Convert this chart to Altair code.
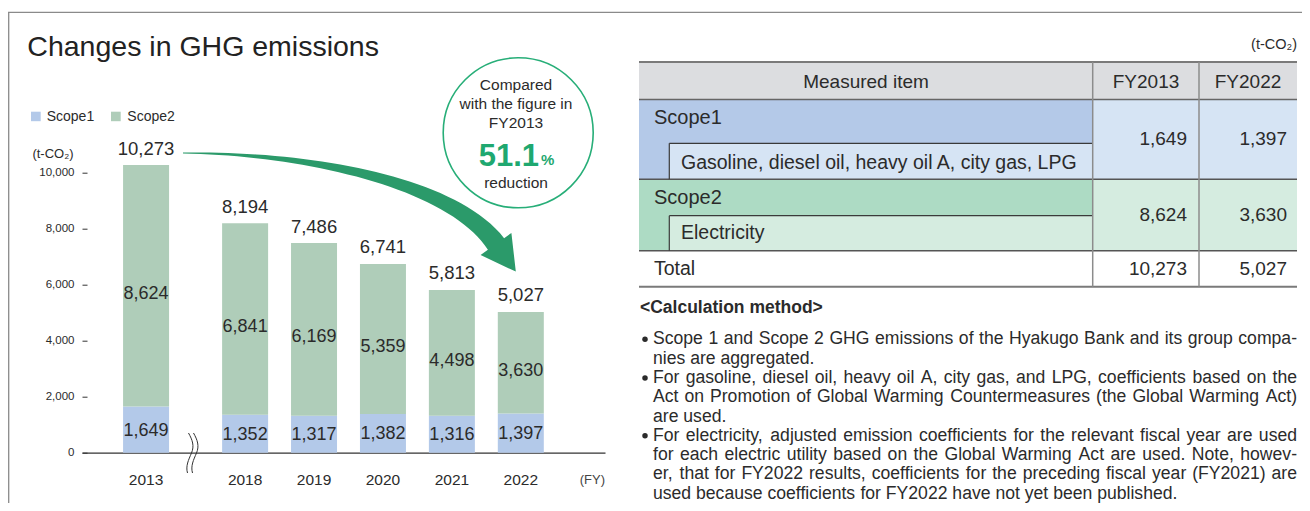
import altair as alt
import pandas as pd

# ---------------- data ----------------
years = [2013, 2018, 2019, 2020, 2021, 2022]
scope1 = [1649, 1352, 1317, 1382, 1316, 1397]
scope2 = [8624, 6841, 6169, 5359, 4498, 3630]
totals = [10273, 8194, 7486, 6741, 5813, 5027]
series_names = ["Scope1", "Scope2"]
series_colors = ["#b3c9e9", "#afcdb9"]
y_ticks = [0, 2000, 4000, 6000, 8000, 10000]

title_text = "Changes in GHG emissions"
unit_text = "(t-CO\u2082)"
fy_text = "(FY)"
circle_lines = ["Compared", "with the figure in", "FY2013"]
reduction_pct = "51.1"
reduction_word = "reduction"
table_header = ["Measured item", "FY2013", "FY2022"]
table_rows = ["Scope1", "Scope2", "Total"]
scope1_detail = "Gasoline, diesel oil, heavy oil A, city gas, LPG"
scope2_detail = "Electricity"
method_title = "<Calculation method>"
method_paragraphs = [
    ["Scope 1 and Scope 2 GHG emissions of the Hyakugo Bank and its group compa-",
     "nies are aggregated."],
    ["For gasoline, diesel oil, heavy oil A, city gas, and LPG, coefficients based on the",
     "Act on Promotion of Global Warming Countermeasures (the Global Warming Act)",
     "are used."],
    ["For electricity, adjusted emission coefficients for the relevant fiscal year are used",
     "for each electric utility based on the Global Warming Act are used. Note, howev-",
     "er, that for FY2022 results, coefficients for the preceding fiscal year (FY2021) are",
     "used because coefficients for FY2022 have not yet been published."],
]

# ---------------- layout / style ----------------
FONT = "Liberation Sans, Arial, Helvetica, sans-serif"
INK = "#2b2b2b"
GREEN_TXT = "#1fa870"
GREEN_ARROW = "#2b9a6a"
OX, OY = 82.0, 116.7          # page position of the plot origin
W, H = 523, 336
SVG_W, SVG_H = 1294, 495
X_DOMAIN = [2015.706, 2023.149]
Y_DOMAIN = [0, 12000]
BREAK_SLOT_2013 = 2016.563     # broken axis: 2013 drawn closer to 2018


def px(rx):
    return rx - OX


def py(ry):
    return ry - OY


# ---------------- bar chart ----------------
rows = []
for yr, s1, s2 in zip(years, scope1, scope2):
    slot = BREAK_SLOT_2013 if yr == 2013 else yr
    rows.append(dict(year=yr, slot=slot, series="Scope1", lower=0, upper=s1,
                     mid=s1 / 2, label=f"{s1:,}"))
    rows.append(dict(year=yr, slot=slot, series="Scope2", lower=s1, upper=s1 + s2,
                     mid=s1 + s2 / 2, label=f"{s2:,}"))
bars_df = pd.DataFrame(rows)
tot_df = pd.DataFrame(dict(
    slot=[BREAK_SLOT_2013 if y == 2013 else y for y in years],
    total=totals,
    label=[f"{t:,}" for t in totals],
    ylab=[str(y) for y in years],
))

xs = alt.Scale(domain=X_DOMAIN, nice=False, zero=False)
ys = alt.Scale(domain=Y_DOMAIN, nice=False, zero=True)
x_axis = alt.Axis(domain=True, domainColor="#333333", domainWidth=1.3, ticks=False,
                  labels=False, grid=False, title=None)
y_axis = alt.Axis(values=y_ticks, labelExpr="format(datum.value, ',')", title=None,
                  domain=False, grid=False, ticks=True, tickSize=5, tickColor="#333333",
                  tickWidth=1, offset=-5, labelPadding=8, labelFont=FONT,
                  labelFontSize=11.5, labelColor=INK)

bars = alt.Chart(bars_df).mark_bar(size=46).encode(
    x=alt.X("slot:Q", scale=xs, axis=x_axis),
    y=alt.Y("lower:Q", scale=ys, axis=y_axis),
    y2="upper:Q",
    color=alt.Color("series:N", scale=alt.Scale(domain=series_names, range=series_colors),
                    legend=None),
)
s1_labels = alt.Chart(bars_df).transform_filter("datum.series == 'Scope1'").mark_text(
    font=FONT, fontSize=18, color=INK, dy=1, baseline="middle").encode(
    x=alt.X("slot:Q", scale=xs, axis=x_axis),
    y=alt.Y("mid:Q", scale=ys, axis=y_axis),
    text="label:N")
s2_labels = alt.Chart(bars_df).transform_filter("datum.series == 'Scope2'").mark_text(
    font=FONT, fontSize=18, color=INK, dy=8, baseline="middle").encode(
    x=alt.X("slot:Q", scale=xs, axis=x_axis),
    y=alt.Y("mid:Q", scale=ys, axis=y_axis),
    text="label:N")
tot_labels = alt.Chart(tot_df).mark_text(
    font=FONT, fontSize=18.5, color=INK, dy=-16.5, baseline="middle").encode(
    x=alt.X("slot:Q", scale=xs, axis=x_axis),
    y=alt.Y("total:Q", scale=ys, axis=y_axis),
    text="label:N")
year_labels = alt.Chart(tot_df).mark_text(
    font=FONT, fontSize=15.5, color=INK, baseline="middle").encode(
    x=alt.X("slot:Q", scale=xs, axis=x_axis),
    y=alt.value(py(479.5)),
    text="ylab:N")
bar_group = alt.layer(bars, s1_labels, s2_labels, tot_labels, year_labels)


# ---------------- annotations ----------------
def label(text, rx, ry, size, align="left", weight="normal", color=INK, baseline="middle"):
    return alt.Chart(alt.Data(values=[{}])).mark_text(
        text=text, align=align, baseline=baseline, font=FONT, fontSize=size,
        fontWeight=weight, color=color).encode(x=alt.value(px(rx)), y=alt.value(py(ry)))


# table / legend backgrounds (page coords: x1, x2, y1, y2, fill)
C_HEAD, C_S1, C_S1L, C_S2, C_S2L = "#dcdde0", "#b4c9e8", "#d6e4f4", "#addbc4", "#d5ece0"
rect_specs = [
    (639, 1297, 62, 99.5, C_HEAD),
    (639, 1092.7, 99.5, 179.3, C_S1),
    (669.3, 1092.7, 143.3, 179.3, C_S1L),
    (1092.7, 1297, 99.5, 179.3, C_S1L),
    (639, 1092.7, 179.3, 250.7, C_S2),
    (669.3, 1092.7, 215.7, 250.7, C_S2L),
    (1092.7, 1297, 179.3, 250.7, C_S2L),
    (31, 40.7, 111.7, 121.2, series_colors[0]),
    (111, 120.7, 111.7, 121.2, series_colors[1]),
]
rect_df = pd.DataFrame([dict(x=px(a), x2=px(b), y=py(c), y2=py(d), fill=f)
                        for a, b, c, d, f in rect_specs])
rects = alt.Chart(rect_df).mark_rect().encode(
    x=alt.X("x:Q", scale=None, axis=None), x2="x2:Q",
    y=alt.Y("y:Q", scale=None, axis=None), y2="y2:Q",
    color=alt.Color("fill:N", scale=None, legend=None))

rule_specs = [
    (8, 1302, 12.3, 12.3, "#8a8a8a", 1.3),      # frame top
    (8.7, 8.7, 12.3, 503, "#8a8a8a", 1.3),      # frame left
    (639, 1297, 62, 62, "#7a7a7a", 2),
    (639, 1297, 99.5, 99.5, "#666666", 1.5),
    (639, 1297, 179.3, 179.3, "#555555", 1.5),
    (639, 1297, 250.7, 250.7, "#555555", 1.5),
    (639, 1297, 286.7, 286.7, "#7a7a7a", 2),
    (669.3, 1092.7, 143.3, 143.3, "#3a3a3a", 1.2),
    (669.3, 669.3, 143.3, 179.3, "#3a3a3a", 1.2),
    (669.3, 1092.7, 215.7, 215.7, "#3a3a3a", 1.2),
    (669.3, 669.3, 215.7, 250.7, "#3a3a3a", 1.2),
    (1092.7, 1092.7, 62, 286.7, "#8c8c8c", 1.5),
    (1199, 1199, 62, 286.7, "#8c8c8c", 1.5),
]
rule_df = pd.DataFrame([dict(x=px(a), x2=px(b), y=py(c), y2=py(d), stroke=s, sw=w)
                        for a, b, c, d, s, w in rule_specs])
rules = alt.Chart(rule_df).mark_rule().encode(
    x=alt.X("x:Q", scale=None, axis=None), x2="x2:Q",
    y=alt.Y("y:Q", scale=None, axis=None), y2="y2:Q",
    color=alt.Color("stroke:N", scale=None, legend=None),
    strokeWidth=alt.StrokeWidth("sw:Q", scale=None, legend=None))

# curved arrow (page coords), built as an SVG path for a custom symbol
P0, P1, P2, P3 = (183, 153), (300, 153), (450, 180), (496, 244)


def bez(t):
    m = 1 - t
    return (m**3 * P0[0] + 3 * m * m * t * P1[0] + 3 * m * t * t * P2[0] + t**3 * P3[0],
            m**3 * P0[1] + 3 * m * m * t * P1[1] + 3 * m * t * t * P2[1] + t**3 * P3[1])


def bez_d(t):
    m = 1 - t
    return (3 * m * m * (P1[0] - P0[0]) + 6 * m * t * (P2[0] - P1[0]) + 3 * t * t * (P3[0] - P2[0]),
            3 * m * m * (P1[1] - P0[1]) + 6 * m * t * (P2[1] - P1[1]) + 3 * t * t * (P3[1] - P2[1]))


upper, lower = [], []
N = 40
for i in range(N + 1):
    t = i / N
    x, y = bez(t)
    dx, dy = bez_d(t)
    L = (dx * dx + dy * dy) ** 0.5
    nx, ny = dy / L, -dx / L
    w = (1 + 19 * t ** 1.2) / 2
    upper.append((x + nx * w, y + ny * w))
    lower.append((x - nx * w, y - ny * w))
dx, dy = bez_d(1)
L = (dx * dx + dy * dy) ** 0.5
ux, uy = dx / L, dy / L
nx, ny = uy, -ux
wingU = (P3[0] + nx * 19, P3[1] + ny * 19)
tip = (P3[0] + ux * 34, P3[1] + uy * 34)
wingL = (P3[0] - nx * 19, P3[1] - ny * 19)
pts = upper + [wingU, tip, wingL] + lower[::-1]
arrow_path = "M" + " L".join(f"{px(a):.1f},{py(b):.1f}" for a, b in pts) + " Z"

arrow = alt.Chart(alt.Data(values=[{}])).mark_point(
    shape=arrow_path, size=4, filled=True, color=GREEN_ARROW, opacity=1, strokeWidth=0
).encode(x=alt.value(0), y=alt.value(0))

circle = alt.Chart(alt.Data(values=[{}])).mark_point(
    shape="circle", size=150 * 150, filled=False, color="#27ae78", opacity=1, strokeWidth=1.6
).encode(x=alt.value(px(518.2)), y=alt.value(py(132.8)))

break_path = "M-3,-20 C1,-13 3,-7 0,0 C-3,7 -6,13 -4,20 M2,-20 C6,-13 8,-7 5,0 C2,7 -1,13 1,20"
axis_break = alt.Chart(alt.Data(values=[{}])).mark_point(
    shape=break_path, size=4, filled=False, color="#333333", opacity=1, strokeWidth=1
).encode(x=alt.value(px(191.5)), y=alt.value(py(453)))

# justified body text, laid out word by word with Arial/Liberation Sans metrics
AFM = {' ': 278, '(': 333, ')': 333, ',': 278, '-': 333, '.': 278, '<': 584, '>': 584}
for ch in "0123456789":
    AFM[ch] = 556
AFM.update(dict(A=667, B=667, C=722, D=722, E=667, F=611, G=778, H=722, I=278, J=500,
                K=667, L=556, M=833, N=722, O=778, P=667, Q=778, R=722, S=667, T=611,
                U=722, V=667, W=944, X=667, Y=667, Z=611,
                a=556, b=556, c=500, d=556, e=556, f=278, g=556, h=556, i=222, j=222,
                k=500, l=222, m=833, n=556, o=556, p=556, q=556, r=333, s=500, t=278,
                u=556, v=500, w=722, x=500, y=500, z=500))
BODY_FS = 17.6


def tw(s, fs=BODY_FS):
    return sum(AFM.get(c, 556) for c in s) * fs / 1000


TEXT_L, TEXT_R = 653, 1297
LINE0, LINE_STEP = 339.3, 19.3
word_rows, bullet_rows = [], []
li = 0
for para in method_paragraphs:
    for k, line in enumerate(para):
        yline = LINE0 + li * LINE_STEP
        if k == 0:
            bullet_rows.append(dict(x=px(645), y=py(yline)))
        words = line.split(" ")
        if k < len(para) - 1 and len(words) > 1:
            gap = (TEXT_R - TEXT_L - sum(tw(w) for w in words)) / (len(words) - 1)
        else:
            gap = tw(" ")
        xx = TEXT_L
        for wd in words:
            word_rows.append(dict(x=px(xx), y=py(yline), w=wd))
            xx += tw(wd) + gap
        li += 1
words_layer = alt.Chart(pd.DataFrame(word_rows)).mark_text(
    align="left", baseline="middle", font=FONT, fontSize=BODY_FS, color=INK).encode(
    x=alt.X("x:Q", scale=None, axis=None), y=alt.Y("y:Q", scale=None, axis=None), text="w:N")
bullets = alt.Chart(pd.DataFrame(bullet_rows)).mark_point(
    shape="circle", filled=True, size=30, color=INK, opacity=1).encode(
    x=alt.X("x:Q", scale=None, axis=None), y=alt.Y("y:Q", scale=None, axis=None))

texts = [
    label(title_text, 27.3, 55.7, 28.5, baseline="alphabetic", color="#222222"),
    label(series_names[0], 46.7, 116.5, 14),
    label(series_names[1], 127.3, 116.5, 14),
    label(unit_text, 53, 154, 13, align="center"),
    label(fy_text, 605, 480, 13, align="right", color="#444444"),
    label(circle_lines[0], 516, 85, 15.5, align="center"),
    label(circle_lines[1], 516, 104, 15.5, align="center"),
    label(circle_lines[2], 516, 122.7, 15.5, align="center"),
    label(reduction_pct, 539, 166, 31, align="right", weight="bold", color=GREEN_TXT,
          baseline="alphabetic"),
    label("%", 541, 165, 15, weight="bold", color=GREEN_TXT, baseline="alphabetic"),
    label(reduction_word, 516, 183.3, 15.5, align="center"),
    label(unit_text, 1297, 45, 14.5, align="right"),
    label(table_header[0], 866, 81.5, 19, align="center"),
    label(table_header[1], 1146, 81.5, 19, align="center"),
    label(table_header[2], 1248, 81.5, 19, align="center"),
    label(table_rows[0], 654, 118.3, 20),
    label(scope1_detail, 681, 162.7, 19.5),
    label(f"{scope1[0]:,}", 1187, 139.3, 19, align="right"),
    label(f"{scope1[-1]:,}", 1287, 139.3, 19, align="right"),
    label(table_rows[1], 654, 198.3, 20),
    label(scope2_detail, 681, 233.3, 19.5),
    label(f"{scope2[0]:,}", 1187, 215, 19, align="right"),
    label(f"{scope2[-1]:,}", 1287, 215, 19, align="right"),
    label(table_rows[2], 654, 269.3, 19.5),
    label(f"{totals[0]:,}", 1187, 269.3, 19, align="right"),
    label(f"{totals[-1]:,}", 1287, 269.3, 19, align="right"),
    label(method_title, 640, 308.3, 17.5, weight="bold"),
]

chart = alt.layer(
    rects, rules, bar_group, arrow, circle, axis_break, words_layer, bullets, *texts
).resolve_scale(
    x="independent", y="independent", color="independent", strokeWidth="independent"
).properties(
    width=W, height=H,
    padding={"left": OX - 8, "top": OY - 8, "right": SVG_W - (OX - 8) - W,
             "bottom": SVG_H - (OY - 8) - H},
    autosize=alt.AutoSizeParams(type="none"),
    background="white",
).configure_view(stroke=None)

chart.save("out.html", embed_options={"renderer": "svg", "actions": False})
